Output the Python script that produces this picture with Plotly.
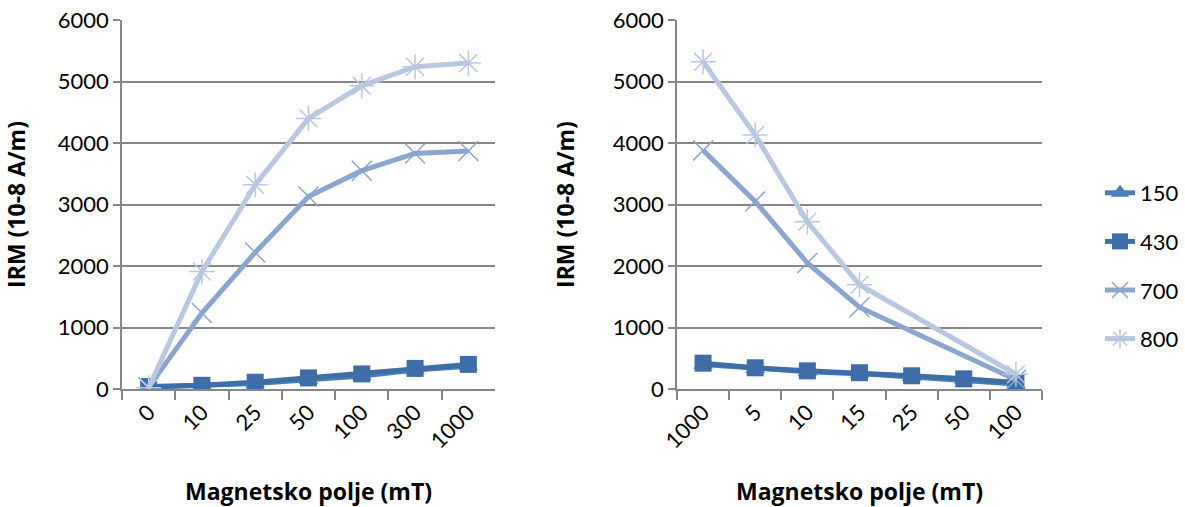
import plotly.graph_objects as go

# ---- data ----
cats_left = ["0", "10", "25", "50", "100", "300", "1000"]
cats_right = ["1000", "5", "10", "15", "25", "50", "100"]
series_names = ["150", "430", "700", "800"]

left_150 = [30, 50, 90, 150, 210, 310, 370]
left_430 = [40, 60, 110, 180, 245, 335, 400]
left_700 = [30, 1235, 2220, 3130, 3550, 3830, 3870]
left_800 = [20, 1910, 3320, 4400, 4930, 5240, 5300]

right_150 = [400, 330, 280, 250, 200, 150, 80]
right_430 = [420, 345, 295, 265, 215, 165, 105]
right_700 = [3880, 3050, 2050, 1330, None, None, 150]
right_800 = [5320, 4130, 2720, 1695, None, None, 240]

colors = ["#4A7EBB", "#3E6DA8", "#8BA5CF", "#B9C7E0"]
symbols = ["triangle-up", "square", "x-thin-open", "asterisk-open"]
msizes = [17, 17, 20, 21]

left_vals = [left_150, left_430, left_700, left_800]
right_vals = [right_150, right_430, right_700, right_800]

FONT = "Lato"
TFONT = "Open Sans"
fig = go.Figure()

for i, name in enumerate(series_names):
    mk = dict(symbol=symbols[i], size=msizes[i], color=colors[i])
    if i >= 2:
        mk["line"] = dict(color=colors[i], width=1.5)
    fig.add_trace(go.Scatter(
        x=cats_left, y=left_vals[i], name=name, mode="lines+markers",
        line=dict(color=colors[i], width=5), marker=mk,
        xaxis="x", yaxis="y", showlegend=True, legendgroup=name))
    fig.add_trace(go.Scatter(
        x=cats_right, y=right_vals[i], name=name, mode="lines+markers",
        line=dict(color=colors[i], width=5), marker=mk, connectgaps=True,
        xaxis="x2", yaxis="y2", showlegend=False, legendgroup=name))

W, H = 1185, 507
ydom = [118 / H, 487 / H]
grid = "#868686"

yaxis_common = dict(
    range=[0, 6000], dtick=1000, showgrid=True, gridcolor=grid, gridwidth=1.5,
    showline=True, linecolor=grid, linewidth=1.5, ticks="outside", ticklen=7,
    tickcolor=grid, tickwidth=1.5, zeroline=False, automargin=False,
    ticklabeloverflow="allow",
    tickfont=dict(family=FONT, size=22, color="#000"),
    title=dict(text="<b>IRM (10-8 A/m)</b>", font=dict(family=TFONT, size=23, color="#000"), standoff=32),
    domain=ydom,
)
xaxis_common = dict(
    type="category", showline=True, linecolor=grid, linewidth=1.5,
    ticks="outside", ticklen=9, tickcolor=grid, tickwidth=1.5, tickson="boundaries",
    tickangle=-45, showgrid=False, automargin=False, ticklabeloverflow="allow",
    tickfont=dict(family=FONT, size=22, color="#000"),
    title=dict(text="<b>Magnetsko polje (mT)</b>", font=dict(family=TFONT, size=23, color="#000"), standoff=40),
)

fig.update_layout(
    width=W, height=H,
    margin=dict(l=0, r=0, t=0, b=0, pad=0, autoexpand=False),
    paper_bgcolor="white", plot_bgcolor="white",
    xaxis=dict(domain=[122 / W, 495 / W], anchor="y", range=[-0.5, 6.5], **xaxis_common),
    yaxis=dict(anchor="x", **yaxis_common),
    xaxis2=dict(domain=[677 / W, 1042 / W], anchor="y2", range=[-0.5, 6.5], **xaxis_common),
    yaxis2=dict(anchor="x2", **yaxis_common),
    legend=dict(x=1100 / W, y=(H - 172) / H, xanchor="left", yanchor="top",
                font=dict(family=FONT, size=22, color="#000"), tracegroupgap=17,
                bgcolor="rgba(0,0,0,0)"),
    showlegend=True,
)

fig.write_html("out.html", config={"displayModeBar": False},
               post_script="document.body.style.margin='0';")
